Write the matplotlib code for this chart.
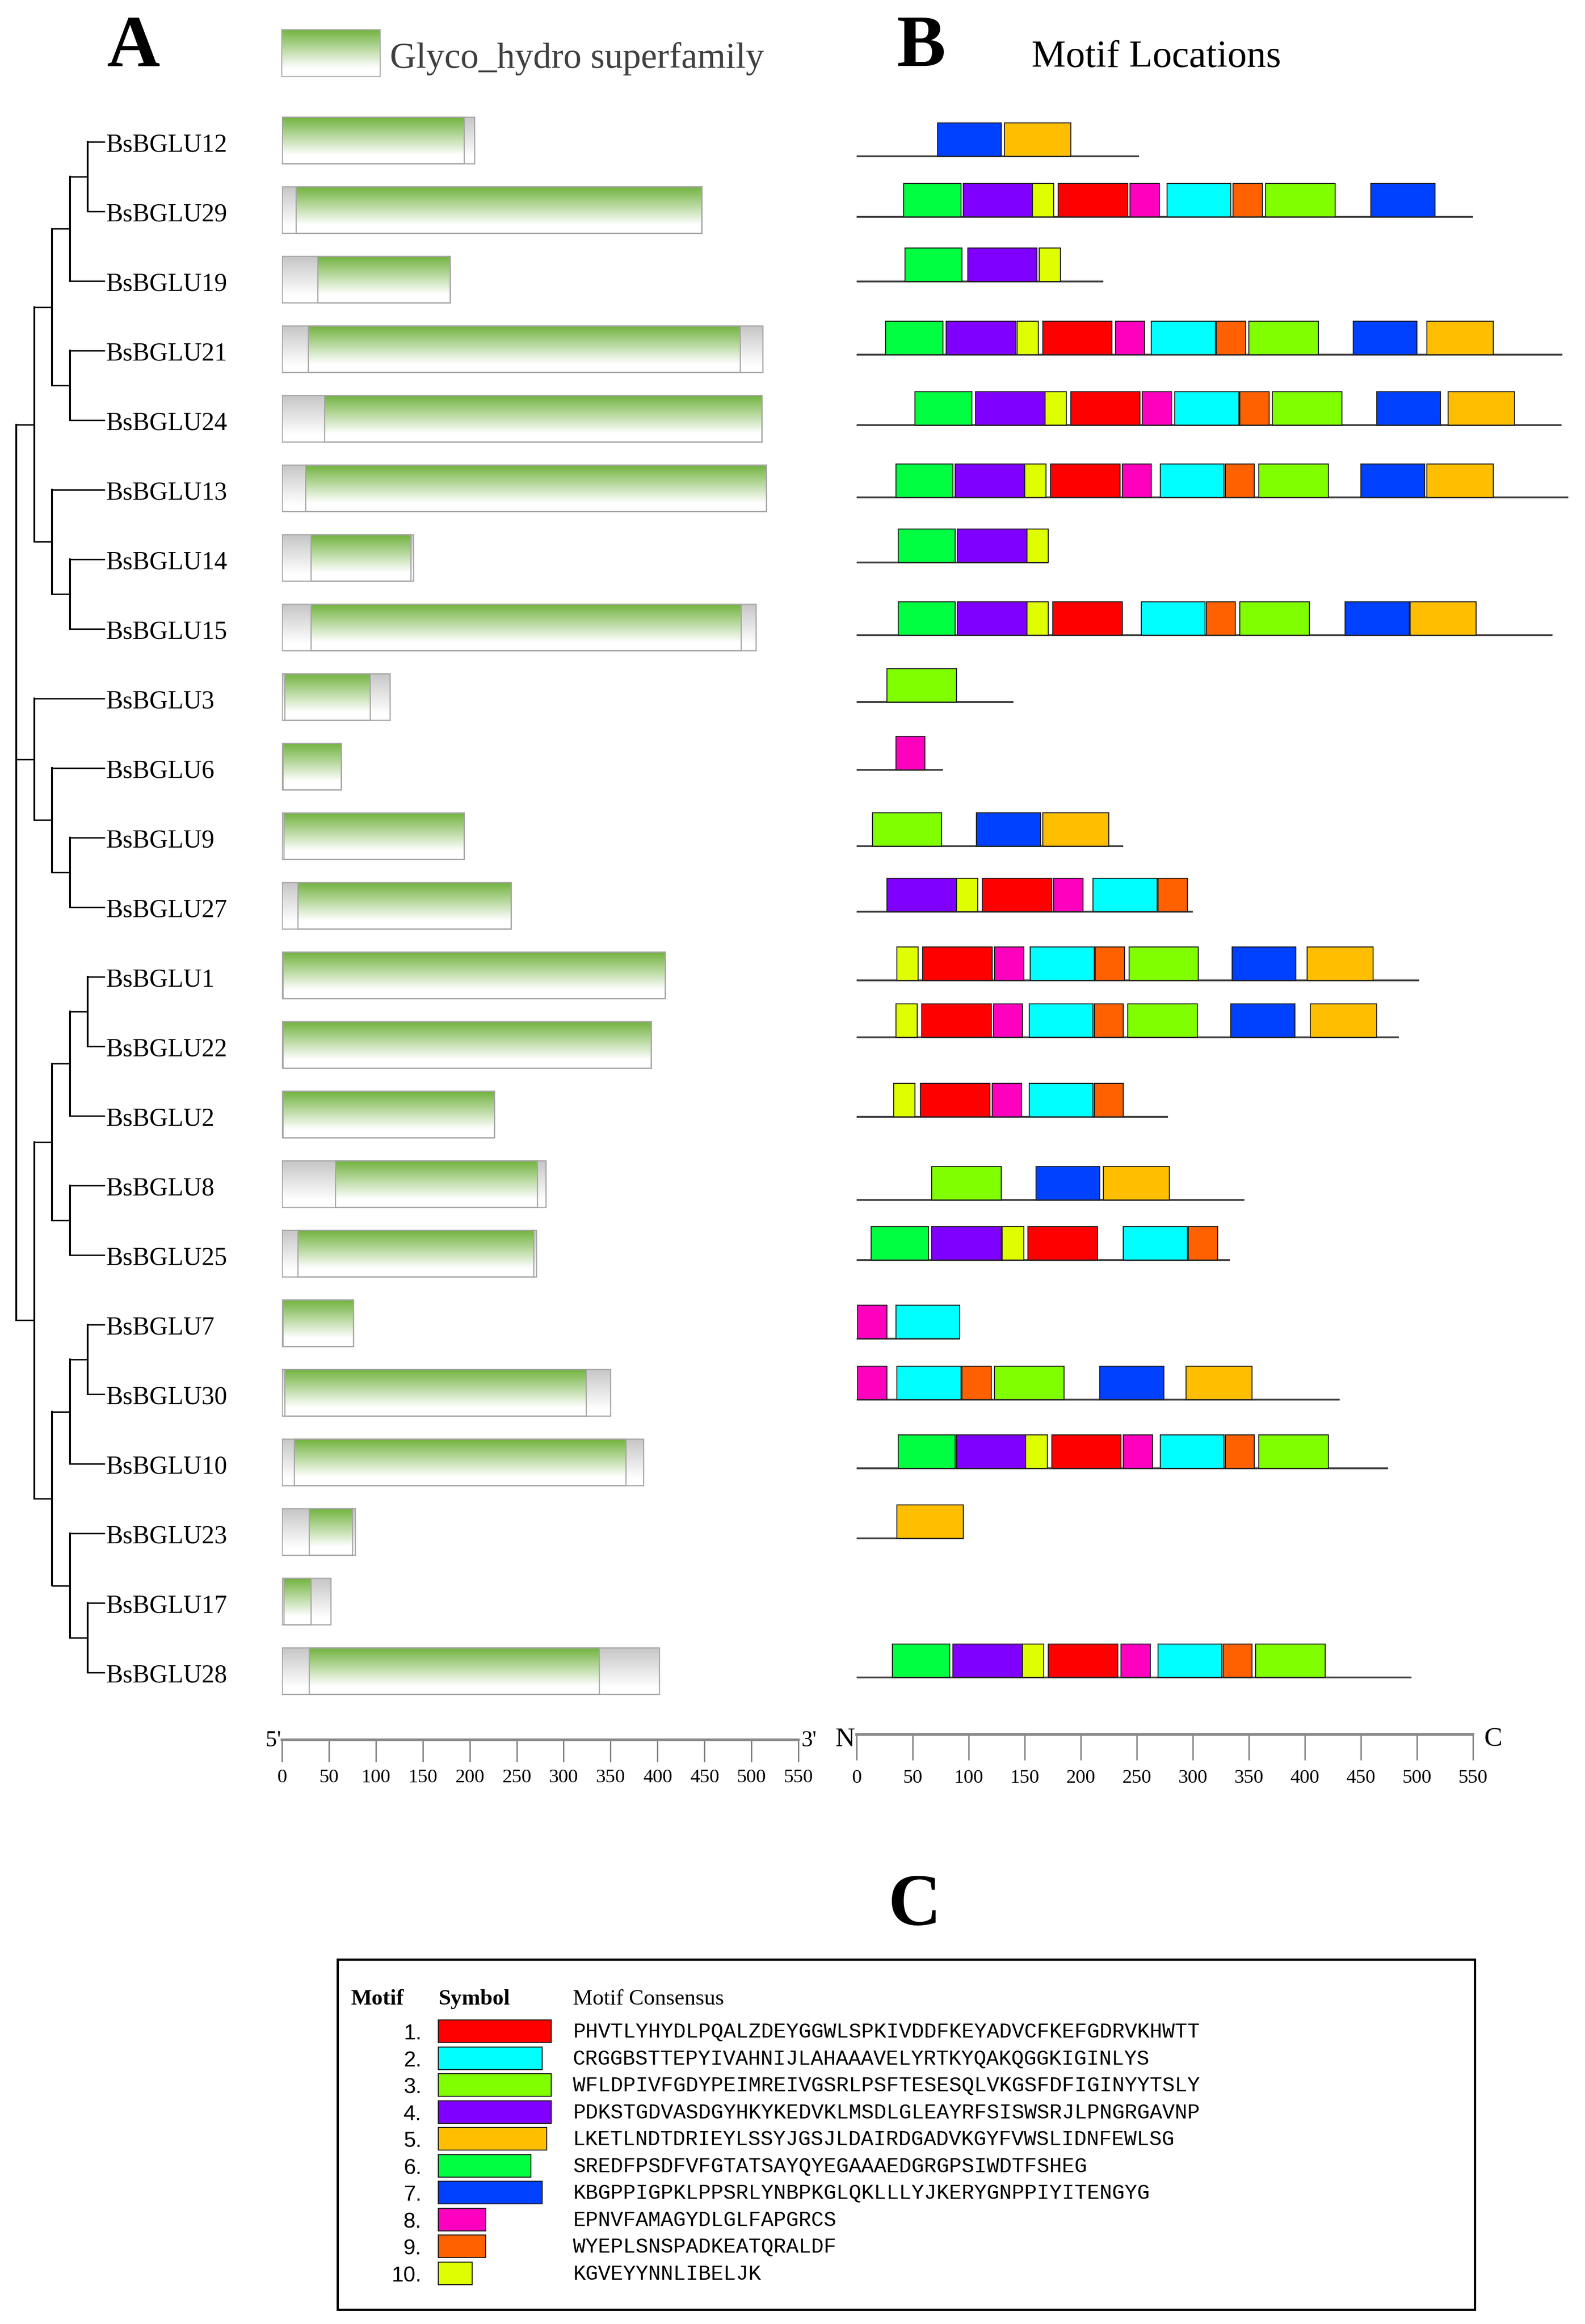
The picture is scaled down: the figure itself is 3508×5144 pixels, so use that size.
import matplotlib
matplotlib.use("Agg")
import matplotlib.pyplot as plt
import numpy as np
from matplotlib.colors import LinearSegmentedColormap
from matplotlib.patches import Rectangle

plt.rcParams['font.family'] = ['Liberation Serif', 'DejaVu Serif']

W, H = 3508, 5144
PX = 72 / 300  # one pixel in points

# gene order, top to bottom
genes = ["BsBGLU12", "BsBGLU29", "BsBGLU19", "BsBGLU21", "BsBGLU24", "BsBGLU13", "BsBGLU14", "BsBGLU15",
         "BsBGLU3", "BsBGLU6", "BsBGLU9", "BsBGLU27", "BsBGLU1", "BsBGLU22", "BsBGLU2", "BsBGLU8",
         "BsBGLU25", "BsBGLU7", "BsBGLU30", "BsBGLU10", "BsBGLU23", "BsBGLU17", "BsBGLU28"]

# tree topology
tree = (
    ((((("BsBGLU12", "BsBGLU29"), "BsBGLU19"), ("BsBGLU21", "BsBGLU24")),
      ("BsBGLU13", ("BsBGLU14", "BsBGLU15")))),
    ("BsBGLU3", ("BsBGLU6", ("BsBGLU9", "BsBGLU27"))),
    ((((("BsBGLU1", "BsBGLU22"), "BsBGLU2"), ("BsBGLU8", "BsBGLU25")),
      ((("BsBGLU7", "BsBGLU30"), "BsBGLU10"), ("BsBGLU23", ("BsBGLU17", "BsBGLU28"))))),
)

# panel A: total length, domain start, domain end
gene_len = [205, 447, 179, 512, 511, 516, 140, 505, 115, 63, 194, 244, 408, 393, 226, 281, 271, 76, 350, 385, 78, 52, 402]
dom_start = [0, 15, 38, 28, 45, 25, 31, 31, 3, 1, 2, 17, 1, 1, 1, 57, 17, 1, 3, 13, 29, 2, 29]
dom_end = [194, 447, 179, 488, 511, 516, 137, 489, 94, 63, 194, 244, 408, 393, 226, 272, 268, 76, 324, 366, 75, 31, 338]

# panel B: protein length and the motifs found in each protein
prot_len = [252, 550, 220, 630, 629, 635, 171, 621, 140, 77, 238, 300, 502, 484, 278, 346, 333, 92, 431, 474, 95, None, 495]
motif_ids = [
    [7, 5],
    [6, 4, 10, 1, 8, 2, 9, 3, 7],
    [6, 4, 10],
    [6, 4, 10, 1, 8, 2, 9, 3, 7, 5],
    [6, 4, 10, 1, 8, 2, 9, 3, 7, 5],
    [6, 4, 10, 1, 8, 2, 9, 3, 7, 5],
    [6, 4, 10],
    [6, 4, 10, 1, 2, 9, 3, 7, 5],
    [3],
    [8],
    [3, 7, 5],
    [4, 10, 1, 8, 2, 9],
    [10, 1, 8, 2, 9, 3, 7, 5],
    [10, 1, 8, 2, 9, 3, 7, 5],
    [10, 1, 8, 2, 9],
    [3, 7, 5],
    [6, 4, 10, 1, 2, 9],
    [8, 2],
    [8, 2, 9, 3, 7, 5],
    [6, 4, 10, 1, 8, 2, 9, 3],
    [5],
    [],
    [6, 4, 10, 1, 8, 2, 9, 3],
]
motif_starts = [
    [72, 132],
    [42, 95, 157, 180, 244, 277, 336, 365, 459],
    [43, 99, 163],
    [26, 80, 143, 166, 231, 263, 321, 350, 443, 509],
    [52, 106, 168, 191, 255, 284, 342, 371, 464, 528],
    [35, 88, 150, 173, 237, 271, 329, 359, 450, 509],
    [37, 90, 152],
    [37, 90, 152, 175, 254, 312, 342, 436, 494],
    [27],
    [35],
    [14, 107, 166],
    [27, 89, 112, 176, 211, 269],
    [36, 59, 123, 155, 213, 243, 335, 402],
    [35, 58, 122, 154, 212, 242, 334, 405],
    [33, 57, 121, 154, 212],
    [67, 160, 220],
    [13, 67, 130, 153, 238, 296],
    [1, 35],
    [1, 36, 94, 123, 217, 294],
    [37, 89, 151, 174, 238, 271, 329, 359],
    [36],
    [],
    [32, 86, 148, 171, 236, 269, 327, 356],
]
motif_widths = [62, 57, 62, 62, 59, 51, 57, 26, 26, 19]
motif_colors = ["#FF0000", "#00FFFF", "#80FF00", "#8000FF", "#FFBF00", "#00FF40", "#0040FF", "#FF00BF", "#FF6000", "#DFFF00"]
motif_seqs = [
    "PHVTLYHYDLPQALZDEYGGWLSPKIVDDFKEYADVCFKEFGDRVKHWTT",
    "CRGGBSTTEPYIVAHNIJLAHAAAVELYRTKYQAKQGGKIGINLYS",
    "WFLDPIVFGDYPEIMREIVGSRLPSFTESESQLVKGSFDFIGINYYTSLY",
    "PDKSTGDVASDGYHKYKEDVKLMSDLGLEAYRFSISWSRJLPNGRGAVNP",
    "LKETLNDTDRIEYLSSYJGSJLDAIRDGADVKGYFVWSLIDNFEWLSG",
    "SREDFPSDFVFGTATSAYQYEGAAAEDGRGPSIWDTFSHEG",
    "KBGPPIGPKLPPSRLYNBPKGLQKLLLYJKERYGNPPIYITENGYG",
    "EPNVFAMAGYDLGLFAPGRCS",
    "WYEPLSNSPADKEATQRALDF",
    "KGVEYYNNLIBELJK",
]
scale_ticks = list(range(0, 551, 50))

# layout, all in pixels of the final image
bar_tops = [259 + 154 * i for i in range(len(genes))]
leaf_ys = [314 + 154 * i for i in range(len(genes))]
baselines = [346, 480, 623, 785, 941, 1101, 1245, 1406, 1554, 1704, 1873, 2018, 2170, 2296, 2472, 2656, 2789,
             2963, 3098, 3250, 3405, 3560, 3713]

green_cmap = LinearSegmentedColormap.from_list("g", [(0, "#72B33F"), (0.82, "#FFFFFF"), (1, "#FFFFFF")])
grey_cmap = LinearSegmentedColormap.from_list("k", [(0, "#C6C6C6"), (0.85, "#FFFFFF"), (1, "#FFFFFF")])
ramp = np.linspace(0, 1, 200).reshape(-1, 1)

fig = plt.figure(figsize=(W / 300, H / 300), dpi=300, facecolor="white")


def px_axes(x0, x1):
    # axes spanning the full height, y in image pixels, x free
    a = fig.add_axes([x0 / W, 0, (x1 - x0) / W, 1])
    a.set_ylim(H, 0)
    a.patch.set_alpha(0)
    return a


def scale_axis(a, y, tick_h, pad, lw):
    a.set_xlim(0, 550)
    a.set_ylim(H, 0)
    a.set_yticks([])
    for side in ["left", "right", "top"]:
        a.spines[side].set_visible(False)
    a.spines["bottom"].set_position(("data", y))
    a.spines["bottom"].set_color("#8A8A8A")
    a.spines["bottom"].set_linewidth(lw * PX)
    a.set_xticks(scale_ticks)
    a.tick_params(axis="x", length=tick_h * PX, width=3 * PX, color="#808080", pad=pad * PX, labelsize=10.4)


# overlay for the tree, letters and the motif table
ax = fig.add_axes([0, 0, 1, 1])
ax.set_xlim(0, W)
ax.set_ylim(H, 0)
ax.axis("off")

leaf_y = dict(zip(genes, leaf_ys))


def draw_tree(node, depth):
    x = 36 + 39.5 * depth
    ys = []
    for child in node:
        if isinstance(child, str):
            y = leaf_y[child]
            ax.plot([x, 232], [y, y], color="black", lw=3.2 * PX, solid_capstyle="butt")
        else:
            y = draw_tree(child, depth + 1)
            ax.plot([x, 36 + 39.5 * (depth + 1)], [y, y], color="black", lw=3.2 * PX, solid_capstyle="butt")
        ys.append(y)
    ax.plot([x, x], [ys[0] - 1.6, ys[-1] + 1.6], color="black", lw=4 * PX, solid_capstyle="butt")
    return (ys[0] + ys[-1]) / 2


draw_tree(tree, 0)
for name, y in zip(genes, leaf_ys):
    ax.text(234, y + 21, name, fontsize=13.5, va="baseline", ha="left", color="black")

# panel letters and titles
ax.text(295, 147, "A", fontsize=39, fontweight="bold", ha="center", va="baseline")
ax.text(2038, 146, "B", fontsize=39, fontweight="bold", ha="center", va="baseline")
ax.text(2024, 4260, "C", fontsize=39, fontweight="bold", ha="center", va="baseline")
ax.text(863, 150, "Glyco_hydro superfamily", fontsize=19.3, color="#404040", va="baseline")
ax.text(2283, 148, "Motif Locations", fontsize=20.5, color="black", va="baseline")

# legend swatch for the domain
ax.imshow(ramp, cmap=green_cmap, extent=(623, 841, 169, 65), aspect="auto", interpolation="bilinear")
ax.add_patch(Rectangle((623, 65), 218, 104, fill=False, ec="#B0B0B0", lw=2.5 * PX))

# panel A
ax_a = px_axes(624, 1767)
for top, total, start, end in zip(bar_tops, gene_len, dom_start, dom_end):
    bottom = top + 103
    ax_a.imshow(ramp, cmap=grey_cmap, extent=(0, total, bottom, top), aspect="auto", interpolation="bilinear")
    ax_a.imshow(ramp, cmap=green_cmap, extent=(start, end, bottom, top), aspect="auto", interpolation="bilinear")
    ax_a.add_patch(Rectangle((start, top), end - start, 103, fill=False, ec="#A5A5A5", lw=2.5 * PX))
    ax_a.add_patch(Rectangle((0, top), total, 103, fill=False, ec="#A5A5A5", lw=2.5 * PX))
scale_axis(ax_a, 3851, 49, 15, 6)
ax_a.text(-1, 3864, "5'", fontsize=12, ha="right", va="baseline")
ax_a.text(553, 3864, "3'", fontsize=12, ha="left", va="baseline")

# panel B
ax_b = px_axes(1896, 3260)
for base, length, ids, starts in zip(baselines, prot_len, motif_ids, motif_starts):
    if length is not None:
        ax_b.plot([0, length], [base, base], color="#404040", lw=4 * PX, solid_capstyle="butt", clip_on=False)
    for m, s in zip(ids, starts):
        ax_b.add_patch(Rectangle((s, base - 74), motif_widths[m - 1], 74, fc=motif_colors[m - 1], ec="#202020",
                                 lw=2.2 * PX, clip_on=False, zorder=3))
scale_axis(ax_b, 3839, 57, 20, 6)
ax_b.text(-1.5, 3865, "N", fontsize=14.5, ha="right", va="baseline")
ax_b.text(560, 3863, "C", fontsize=14.5, ha="left", va="baseline")

# panel C, motif table
ax.add_patch(Rectangle((747, 4337), 2517, 775, fill=False, ec="black", lw=5 * PX))
ax.text(776, 4437, "Motif", fontsize=11.8, fontweight="bold", va="baseline")
ax.text(970, 4437, "Symbol", fontsize=11.8, fontweight="bold", va="baseline")
ax.text(1268, 4437, "Motif Consensus", fontsize=11.8, va="baseline")
for i, (color, seq) in enumerate(zip(motif_colors, motif_seqs)):
    y = 4471 + 59.55 * i
    ax.text(933, y + 43, f"{i + 1}.", fontsize=11.5, family="Liberation Sans", ha="right", va="baseline")
    ax.add_patch(Rectangle((970, y), len(seq) * 5, 50, fc=color, ec="#202020", lw=2.2 * PX))
    ax.text(1268, y + 39, seq, fontsize=11.1, family="Liberation Mono", va="baseline")
ax.set_xlim(0, W)
ax.set_ylim(H, 0)

fig.savefig("out.png", dpi=300)
